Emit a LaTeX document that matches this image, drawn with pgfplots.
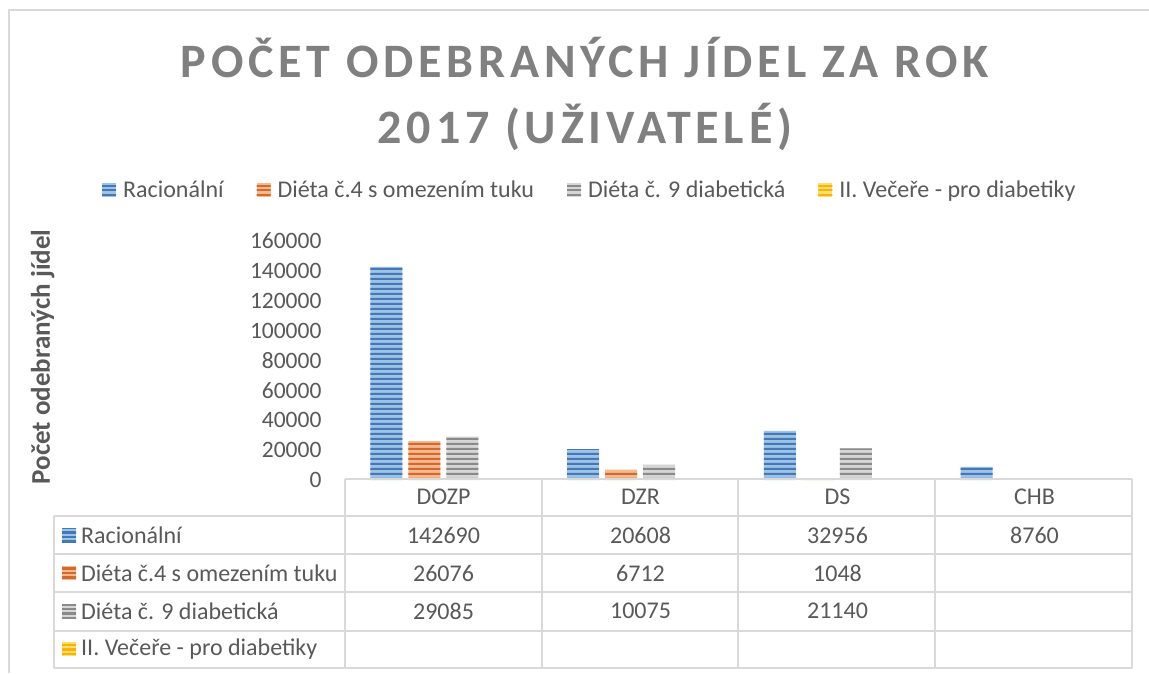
\documentclass[border=0pt]{standalone}
\usepackage{fontspec}
\setmainfont{Carlito}
\newfontfamily\titlefont[LetterSpace=10]{Carlito}
\usepackage{pgfplots}
\pgfplotsset{compat=1.18}
\usetikzlibrary{patterns}
\pgfdeclarepatternformonly{hstripes}{\pgfqpoint{0pt}{0pt}}{\pgfqpoint{300pt}{4.5pt}}{\pgfqpoint{300pt}{4.5pt}}{%
  \pgfpathrectangle{\pgfqpoint{0pt}{0pt}}{\pgfqpoint{300pt}{2.3pt}}\pgfusepath{fill}}
\definecolor{txt}{HTML}{595959}
\definecolor{ttl}{HTML}{808080}
\definecolor{gridc}{HTML}{D9D9D9}
\definecolor{bluef}{HTML}{9CC3E8}
\definecolor{bluep}{HTML}{4679B3}
\definecolor{orangef}{HTML}{F6B88E}
\definecolor{orangep}{HTML}{D2692E}
\definecolor{grayf}{HTML}{D6D6D6}
\definecolor{grayp}{HTML}{8A8A8A}
\definecolor{yellowf}{HTML}{FFDC70}
\definecolor{yellowp}{HTML}{F5B400}
\tikzset{
  bluebar/.style={fill=bluef, draw=none, postaction={pattern=hstripes, pattern color=bluep}},
  orangebar/.style={fill=orangef, draw=none, postaction={pattern=hstripes, pattern color=orangep}},
  graybar/.style={fill=grayf, draw=none, postaction={pattern=hstripes, pattern color=grayp}},
  yellowbar/.style={fill=yellowf, draw=none, postaction={pattern=hstripes, pattern color=yellowp}},
}
\begin{document}
\begin{tikzpicture}[x=1pt,y=1pt]
\useasboundingbox (0,0) rectangle (1149,-673);
\fill[white] (0,0) rectangle (1149,-673);
\draw[gridc, line width=2pt] (9,-673) -- (9,-10) -- (1149,-10);
\node[font=\titlefont\fontsize{48}{66}\selectfont\bfseries, text=ttl, align=center] at (585,-94) {POČET ODEBRANÝCH JÍDEL ZA ROK\\2017 (UŽIVATELÉ)};
\begin{axis}[
  at={(345pt,-480pt)}, anchor=south west, scale only axis,
  width=787pt, height=239pt,
  xmin=-0.5, xmax=3.5, ymin=0, ymax=160000,
  ytick={0,20000,...,160000}, xtick=\empty,
  axis line style={draw=none}, major tick length=0pt, tick style={draw=none},
  yticklabel style={font=\fontsize{23.5}{26}\selectfont, text=txt, anchor=east, xshift=-20pt},
  /pgf/number format/assume math mode=true, /pgf/number format/fixed,
  /pgf/number format/precision=0, /pgf/number format/1000 sep={},
  scaled y ticks=false,
  ylabel={Počet odebraných jídel},
  ylabel style={font=\fontsize{27}{30}\selectfont\bfseries, text=txt, at={(axis description cs:-0.384,0.515)}, anchor=center},
  ybar, bar width=32pt,
  legend columns=4,
  legend style={draw=none, fill=none, at={(axis description cs:0.311,1.213)}, anchor=center,
    font=\fontsize{24}{28}\selectfont, text=txt,
    /tikz/every even column/.append style={column sep=31pt},
    /tikz/every odd column/.append style={column sep=5pt}},
  legend image code/.code={\fill[#1] (0pt,-7pt) rectangle (14pt,7pt);},
  clip=false,
]
\addplot[bluebar, bar shift=-57pt] coordinates {(0,142690) (1,20608) (2,32956) (3,8760)};
\addlegendentry{Racionální}
\addplot[orangebar, bar shift=-19pt] coordinates {(0,26076) (1,6712) (2,1048)};
\addlegendentry{Diéta č.4 s omezením tuku}
\addplot[graybar, bar shift=19pt] coordinates {(0,29085) (1,10075) (2,21140)};
\addlegendentry{Diéta č. 9 diabetická}
\addlegendimage{yellowbar}
\addlegendentry{II. Večeře - pro diabetiky}
\end{axis}
% data table
\begin{scope}[gridc, line width=1.8pt]
\draw (345,-479) -- (1132,-479);
\foreach \y in {516,554,592,631,668} \draw (54,-\y) -- (1132,-\y);
\foreach \x in {345,542,738,935,1132} \draw (\x,-479) -- (\x,-668);
\draw (54,-516) -- (54,-668);
\end{scope}
\begin{scope}[font=\fontsize{24}{28}\selectfont, text=txt]
\node at (443.5,-497) {DOZP};
\node at (640.5,-497) {DZR};
\node at (837.5,-497) {DS};
\node at (1034.5,-497) {CHB};
\node at (443.5,-535) {142690};
\node at (640.5,-535) {20608};
\node at (837.5,-535) {32956};
\node at (1034.5,-535) {8760};
\node at (443.5,-573) {26076};
\node at (640.5,-573) {6712};
\node at (837.5,-573) {1048};
\node at (443.5,-611) {29085};
\node at (640.5,-611) {10075};
\node at (837.5,-611) {21140};
\node[anchor=west, inner sep=0pt] at (81,-535) {Racionální};
\node[anchor=west, inner sep=0pt] at (81,-573) {Diéta č.4 s omezením tuku};
\node[anchor=west, inner sep=0pt] at (81,-611) {Diéta č. 9 diabetická};
\node[anchor=west, inner sep=0pt] at (81,-649) {II. Večeře - pro diabetiky};
\end{scope}
\fill[bluebar] (62,-528) rectangle (76,-542);
\fill[orangebar] (62,-566) rectangle (76,-580);
\fill[graybar] (62,-604) rectangle (76,-618);
\fill[yellowbar] (62,-642) rectangle (76,-656);
\end{tikzpicture}
\end{document}
